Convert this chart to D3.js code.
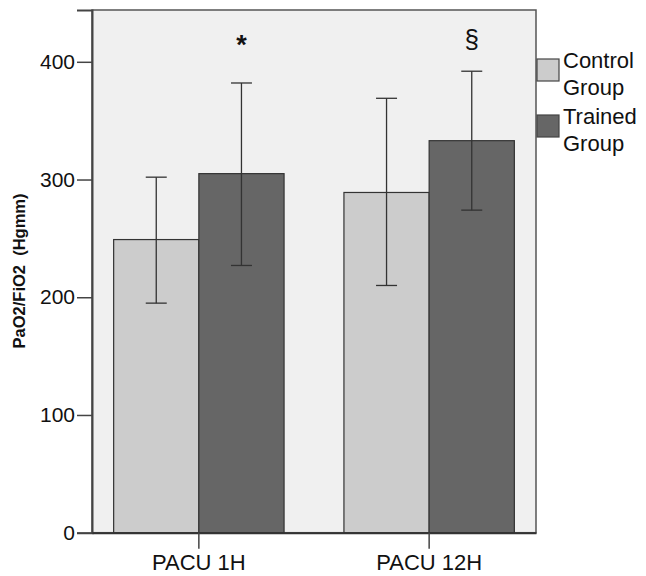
<!DOCTYPE html>
<html>
<head>
<meta charset="utf-8">
<script src="https://cdn.jsdelivr.net/npm/d3@7/dist/d3.min.js"></script>
<style>
  body { margin: 0; background: #fff; }
  text { font-family: "Liberation Sans", Arial, sans-serif; fill: #111; }
</style>
</head>
<body>
<div id="chart"></div>
<script>
// data
let categories = ["PACU 1H", "PACU 12H"];
let groups = ["Control Group", "Trained Group"];
let controlMean = [249, 289];
let controlLow = [195, 210];
let controlHigh = [302, 369];
let trainedMean = [305, 333];
let trainedLow = [227, 274];
let trainedHigh = [382, 392];
let marks = ["*", "§"];
let yTicks = [0, 100, 200, 300, 400];

let w = 646;
let h = 576;
let plotLeft = 92, plotRight = 536, plotTop = 10, plotBottom = 532.7;
let colors = { "Control Group": "#cccccc", "Trained Group": "#666666" };

let rows = [];
categories.forEach(function(c, i){
  rows.push({ cat: c, group: groups[0], mean: controlMean[i], lo: controlLow[i], hi: controlHigh[i] });
  rows.push({ cat: c, group: groups[1], mean: trainedMean[i], lo: trainedLow[i], hi: trainedHigh[i] });
});

let svg = d3.select("#chart").append("svg")
  .attr("width", w)
  .attr("height", h);

let xScale = d3.scaleBand().domain(categories).range([plotLeft, plotRight])
  .paddingInner(0.26).paddingOuter(0.094);
let xInner = d3.scaleBand().domain(groups).range([0, xScale.bandwidth()]);
let yScale = d3.scaleLinear().domain([0, 444]).range([plotBottom, plotTop]);

// plot background
svg.append("rect")
  .attr("x", plotLeft).attr("y", plotTop)
  .attr("width", plotRight - plotLeft).attr("height", plotBottom - plotTop)
  .attr("fill", "#f0f0f0")
  .attr("stroke", "#555").attr("stroke-width", 1.5);

// bars
svg.selectAll(".bar").data(rows).enter()
  .append("rect")
  .attr("class", "bar")
  .attr("x", function(d){ return xScale(d.cat) + xInner(d.group); })
  .attr("y", function(d){ return yScale(d.mean); })
  .attr("width", xInner.bandwidth())
  .attr("height", function(d){ return yScale(0) - yScale(d.mean); })
  .attr("fill", function(d){ return colors[d.group]; })
  .attr("stroke", "#333").attr("stroke-width", 1.2);

// error bars
let err = svg.selectAll(".err").data(rows).enter()
  .append("g")
  .attr("class", "err")
  .attr("transform", function(d){
    return "translate(" + (xScale(d.cat) + xInner(d.group) + xInner.bandwidth() / 2) + ",0)";
  });
err.append("line")
  .attr("x1", 0).attr("x2", 0)
  .attr("y1", function(d){ return yScale(d.lo); })
  .attr("y2", function(d){ return yScale(d.hi); });
err.append("line")
  .attr("x1", -10.5).attr("x2", 10.5)
  .attr("y1", function(d){ return yScale(d.lo); })
  .attr("y2", function(d){ return yScale(d.lo); });
err.append("line")
  .attr("x1", -10.5).attr("x2", 10.5)
  .attr("y1", function(d){ return yScale(d.hi); })
  .attr("y2", function(d){ return yScale(d.hi); });
err.selectAll("line").attr("stroke", "#333").attr("stroke-width", 1.3);

// significance marks above trained bars
svg.selectAll(".mark").data(categories).enter()
  .append("text")
  .attr("class", "mark")
  .attr("x", function(d){ return xScale(d) + xInner(groups[1]) + xInner.bandwidth() / 2; })
  .attr("y", yScale(419))
  .attr("text-anchor", "middle")
  .attr("dominant-baseline", "central")
  .attr("font-size", function(d, i){ return i == 0 ? "27px" : "26px"; })
  .attr("font-weight", function(d, i){ return i == 0 ? "bold" : "normal"; })
  .attr("dy", function(d, i){ return i == 0 ? "0.2em" : "0"; })
  .text(function(d, i){ return marks[i]; });

// y axis
let yAxis = d3.axisLeft(yScale).tickValues(yTicks).tickSize(15).tickPadding(2);
let yAxisGroup = svg.append("g")
  .attr("transform", "translate(" + plotLeft + ",0)")
  .call(yAxis);
yAxisGroup.select(".domain").attr("stroke", "#444").attr("stroke-width", 2);
yAxisGroup.selectAll(".tick line").attr("stroke", "#444").attr("stroke-width", 1.5);
yAxisGroup.selectAll("text")
  .attr("font-size", "21px")
  .attr("font-family", "Liberation Sans, Arial, sans-serif")
  .attr("fill", "#111");

// x axis
let xAxis = d3.axisBottom(xScale).tickSize(16).tickPadding(6).tickSizeOuter(0);
let xAxisGroup = svg.append("g")
  .attr("transform", "translate(0," + plotBottom + ")")
  .call(xAxis);
xAxisGroup.select(".domain").attr("stroke", "#333").attr("stroke-width", 2);
xAxisGroup.selectAll(".tick line").attr("stroke", "#444").attr("stroke-width", 1.5);
xAxisGroup.selectAll("text")
  .attr("font-size", "22px")
  .attr("font-family", "Liberation Sans, Arial, sans-serif")
  .attr("fill", "#111");

// y label
svg.append("text")
  .attr("transform", "translate(25," + 271 + ") rotate(-90)")
  .attr("text-anchor", "middle")
  .attr("font-size", "16.5px")
  .attr("font-weight", "bold")
  .style("white-space", "pre")
  .text("PaO2/FiO2  (Hgmm)");

// legend
let legend = svg.selectAll(".legend").data(groups).enter()
  .append("g")
  .attr("class", "legend")
  .attr("transform", function(d, i){ return "translate(537," + (59 + i * 56) + ")"; });
legend.append("rect")
  .attr("width", 22).attr("height", 22)
  .attr("fill", function(d){ return colors[d]; })
  .attr("stroke", "#444").attr("stroke-width", 1.2);
legend.append("text")
  .attr("x", 26).attr("y", 9)
  .attr("font-size", "22px")
  .text(function(d){ return d.split(" ")[0]; });
legend.append("text")
  .attr("x", 26).attr("y", 36)
  .attr("font-size", "22px")
  .text(function(d){ return d.split(" ")[1]; });
</script>
</body>
</html>
